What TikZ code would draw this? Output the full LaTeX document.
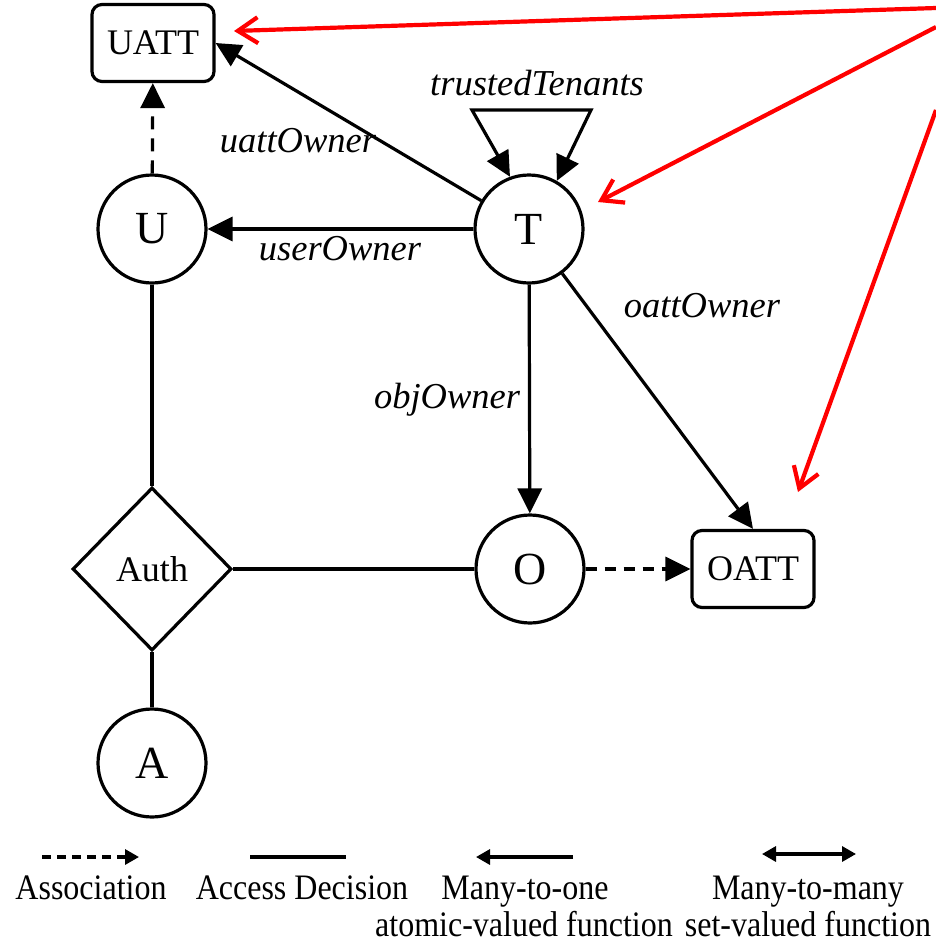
\documentclass[tikz,border=0pt]{standalone}
\usepackage{fontspec}
\setmainfont{Liberation Serif}
\usetikzlibrary{arrows.meta,shapes.geometric}

\newcommand{\tallbox}[1]{\scalebox{1}[1.12]{#1}}

\begin{document}
\begin{tikzpicture}[x=1pt,y=-1pt,line width=3.2pt,
  ent/.style={circle,draw,minimum size=108pt,inner sep=0pt,font=\fontsize{46}{50}\selectfont},
  attr/.style={draw,rounded corners=10pt,minimum width=122pt,minimum height=77pt,inner sep=0pt,font=\fontsize{36}{40}\selectfont},
  dec/.style={diamond,draw,minimum width=159pt,minimum height=163pt,inner sep=0pt,font=\fontsize{36}{40}\selectfont},
  lab/.style={anchor=base,inner sep=0pt,font=\fontsize{36.5}{40}\selectfont\itshape},
  legtext/.style={anchor=base,inner sep=0pt,font=\fontsize{32}{36}\selectfont},
  fn/.style={-{Triangle[length=25pt,width=24pt]}},
  assoc/.style={dashed,dash pattern=on 13pt off 9pt,-{Triangle[length=25pt,width=24pt]}},
  pointer/.style={red,line width=4.2pt,-{Straight Barb[length=20pt,width=26pt,line width=4.2pt]}},
  legfn/.style={-{Triangle[length=14pt,width=15pt]}}
]
\useasboundingbox (0,0) rectangle (936,943);

% entities, attribute sets and the decision point
\node[attr] (UATT) at (153,43) {UATT};
\node[ent] (U) at (152,229) {U};
\node[ent] (T) at (529,229) {T};
\node[ent] (O) at (530,569) {O};
\node[attr] (OATT) at (753,569) {OATT};
\node[dec] (Auth) at (152,569) {Auth};
\node[ent] (A) at (152,763) {A};

% access decision links
\draw (U) -- (Auth);
\draw (Auth) -- (O);
\draw (Auth) -- (A);

% associations
\draw[assoc] (U) -- (UATT);
\draw[assoc,dash pattern=on 11pt off 8pt] (O) -- (OATT);

% tenant ownership functions
\draw[fn] (T) -- (UATT.east);
\draw[fn] (T) -- (U);
\draw[fn] (T) -- (O);
\draw[fn] (T) -- (OATT.north);

% trustedTenants self relation
\coordinate (tl) at (472,110);
\coordinate (tr) at (591,110);
\draw[{Triangle[length=25pt,width=24pt]}-{Triangle[length=25pt,width=24pt]}]
  (T.110) -- (tl) -- (tr) -- (T.60);

% function labels
\node[lab] (lTrust) at (537,95) {trustedTenants};
\node[lab] (lUatt) at (298,152) {uattOwner};
\node[lab] (lUser) at (340,260) {userOwner};
\node[lab] (lOatt) at (702,317) {oattOwner};
\node[lab] (lObj) at (447,408) {objOwner};

% red pointers
\coordinate (p1) at (936,8);
\coordinate (p2) at (936,27);
\coordinate (p3) at (936,110);
\coordinate (t1) at (234,31);
\coordinate (t2) at (598,202);
\coordinate (t3) at (798,492);
\draw[pointer] (p1) -- (t1);
\draw[pointer] (p2) -- (t2);
\draw[pointer] (p3) -- (t3);

% legend
\coordinate (la1) at (42,857);  \coordinate (la2) at (139,857);
\coordinate (lb1) at (250,857); \coordinate (lb2) at (346,857);
\coordinate (lc1) at (476,857); \coordinate (lc2) at (573,857);
\coordinate (ld1) at (762,854); \coordinate (ld2) at (856,854);
\draw[legfn,dashed,dash pattern=on 9pt off 6pt] (la1) -- (la2);
\draw (lb1) -- (lb2);
\draw[legfn] (lc2) -- (lc1);
\draw[{Triangle[length=14pt,width=15pt]}-{Triangle[length=14pt,width=15pt]}] (ld1) -- (ld2);

\node[legtext] (gA) at (91,899) {\tallbox{Association}};
\node[legtext] (gB) at (302,899) {\tallbox{Access Decision}};
\node[legtext] (gC) at (525,899) {\tallbox{Many-to-one}};
\node[legtext] (gC2) at (524,936) {\tallbox{atomic-valued function}};
\node[legtext] (gD) at (808,899) {\tallbox{Many-to-many}};
\node[legtext] (gD2) at (808,936) {\tallbox{set-valued function}};
\end{tikzpicture}
\end{document}
